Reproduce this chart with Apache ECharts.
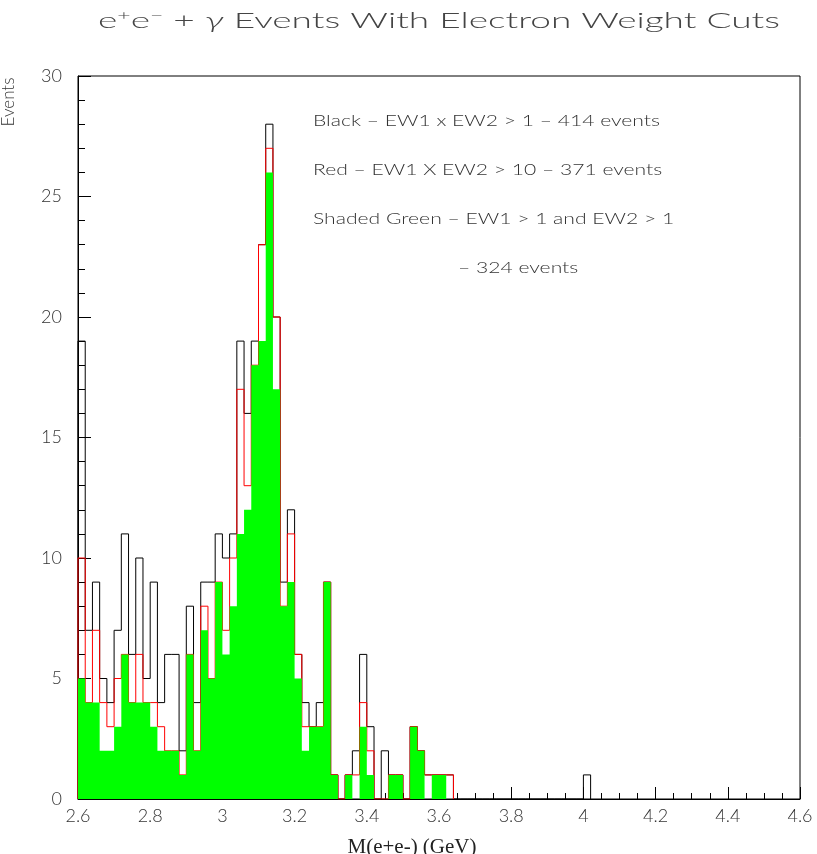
<!DOCTYPE html>
<html>
<head>
<meta charset="utf-8">
<script src="https://cdn.jsdelivr.net/npm/echarts@6/dist/echarts.min.js"></script>
<style>
  html, body { margin: 0; padding: 0; background: #fff; }
  #chart { width: 817px; height: 854px; }
</style>
</head>
<body>
<div id="chart"></div>
<script>
// Histogram binning: bins start at 2.6 GeV, width 0.02 GeV
const binStart = 2.6;
const binWidth = 0.02;

// Black: EW1 x EW2 > 1
const blackCounts = [19,7,9,5,4,7,11,6,10,5, 9,4,6,6,2,8,4,9,9,11,
  10,11,19,16,19,23,28,20,9,12, 6,4,3,4,9,1,0,1,2,6,
  3,0,2,1,1,0,3,2,1,1, 1,1,0,0,0,0,0,0,0,0,
  0,0,0,0,0,0,0,0,0,0, 1];
// Red: EW1 x EW2 > 10
const redCounts = [10,4,7,4,3,5,6,4,6,4, 4,3,2,2,1,6,2,8,5,9,
  7,10,17,13,18,23,27,20,8,11, 6,3,3,3,9,1,0,1,1,4,
  2,0,0,1,1,0,3,2,1,1, 1,1];
// Shaded green: EW1 > 1 and EW2 > 1
const greenCounts = [5,4,4,2,2,3,6,4,4,4, 3,2,2,2,1,6,2,7,5,9,
  6,8,11,12,18,19,26,17,8,9, 5,2,3,3,9,1,0,1,0,3,
  1,0,0,1,1,0,3,2,0,1, 1,0];

const xTicks = { min: 2.6, max: 4.6, interval: 0.2 };
const yTicks = { min: 0, max: 30, interval: 5 };

const titleParts = [['e','n'],['+','sup'],['e','n'],['−','sup'],[' + ','n'],['γ','g'],[' Events With Electron Weight Cuts','n']];
const noteLines = [
  'Black – EW1 x EW2 > 1 – 414 events',
  'Red – EW1 X EW2 > 10 – 371 events',
  'Shaded Green – EW1 > 1 and EW2 > 1',
  '– 324 events'
];
const xName = 'M(e+e-) (GeV)';
const yName = 'Events';

function stepPoints(vals) {
  const pts = [[binStart, 0]];
  vals.forEach((v, i) => pts.push([binStart + i * binWidth, v]));
  const end = binStart + vals.length * binWidth;
  pts.push([end, vals[vals.length - 1]]);
  pts.push([end, 0]);
  return pts;
}

const FONT = 'Lato, "DejaVu Sans", sans-serif';
const rich = {
  n: { fontSize: 21, fontFamily: FONT, fontWeight: 300, fill: '#444' },
  sup: { fontSize: 13, fontFamily: FONT, fontWeight: 300, fill: '#444', verticalAlign: 'top', padding: [0, 0, 11, 0] },
  g: { fontSize: 22, fontFamily: FONT, fontWeight: 300, fontStyle: 'italic', fill: '#444' }
};

// measure text to stretch the thin font to the wide glyph layout of the original
const mctx = document.createElement('canvas').getContext('2d');
function measure(text, st) {
  mctx.font = (st.fontStyle || 'normal') + ' ' + (st.fontWeight || 'normal') + ' ' + st.fontSize + 'px ' + st.fontFamily;
  return mctx.measureText(text).width;
}
const titleW = titleParts.reduce((s, p) => s + measure(p[0], rich[p[1]]), 0);
const titleScale = 682 / titleW;
const titleText = titleParts.map(p => '{' + p[1] + '|' + p[0] + '}').join('');
const noteStyle = { fontSize: 16.5, fontFamily: FONT, fontWeight: 300 };
const noteScale = 347 / measure(noteLines[0], noteStyle);

const chart = echarts.init(document.getElementById('chart'), null, { renderer: 'canvas' });

function noteText(i, x, y) {
  return { type: 'text', x: x, y: y, scaleX: noteScale,
    style: { text: noteLines[i], fontSize: 16.5, fontFamily: FONT, fontWeight: 300, fill: '#333', verticalAlign: 'middle' } };
}

chart.setOption({
  animation: false,
  backgroundColor: '#fff',
  grid: { left: 78, right: 17, top: 76, bottom: 55, show: true, borderColor: '#000', borderWidth: 1, backgroundColor: 'transparent' },
  xAxis: {
    type: 'value', min: xTicks.min, max: xTicks.max, interval: xTicks.interval,
    axisLine: { show: true, lineStyle: { color: '#000', width: 1 } },
    axisTick: { show: true, inside: true, length: 12, lineStyle: { color: '#000' } },
    minorTick: { show: true, splitNumber: 4, length: 6, lineStyle: { color: '#000' } },
    splitLine: { show: false },
    axisLabel: { color: '#333', fontSize: 18, fontFamily: FONT, fontWeight: 300, margin: 8 }
  },
  yAxis: {
    type: 'value', min: yTicks.min, max: yTicks.max, interval: yTicks.interval,
    axisLine: { show: true, lineStyle: { color: '#000', width: 1 } },
    axisTick: { show: true, inside: true, length: 13, lineStyle: { color: '#000' } },
    minorTick: { show: true, splitNumber: 5, length: 7, lineStyle: { color: '#000' } },
    splitLine: { show: false },
    axisLabel: { color: '#333', fontSize: 18, fontFamily: FONT, fontWeight: 300, margin: 16 }
  },
  series: [
    {
      name: 'black', type: 'line', step: 'end', data: stepPoints(blackCounts),
      showSymbol: false, symbol: 'none', lineStyle: { color: '#000', width: 1 }, z: 2
    },
    {
      name: 'red', type: 'line', step: 'end', data: stepPoints(redCounts),
      showSymbol: false, symbol: 'none', lineStyle: { color: '#ff0000', width: 1 }, z: 3
    },
    {
      name: 'green', type: 'line', step: 'end', data: stepPoints(greenCounts),
      showSymbol: false, symbol: 'none', lineStyle: { color: '#00ff00', width: 0, opacity: 0 },
      areaStyle: { color: '#00ff00', opacity: 1 }, z: 4
    }
  ],
  graphic: [
    {
      type: 'text', x: 439, y: 21, scaleX: titleScale,
      style: { text: titleText, align: 'center', verticalAlign: 'middle', rich: rich }
    },
    noteText(0, 313, 121),
    noteText(1, 313, 170),
    noteText(2, 313, 219),
    noteText(3, 458, 268),
    { type: 'text', x: 412, y: 847, style: { text: xName, fontSize: 21, fontFamily: '"Liberation Serif", "DejaVu Serif", serif', fill: '#222', align: 'center', verticalAlign: 'middle' } },
    { type: 'text', x: 9, y: 102, rotation: Math.PI / 2, style: { text: yName, fontSize: 17, fontFamily: FONT, fontWeight: 300, fill: '#333', align: 'center', verticalAlign: 'middle' } }
  ]
});
</script>
</body>
</html>
